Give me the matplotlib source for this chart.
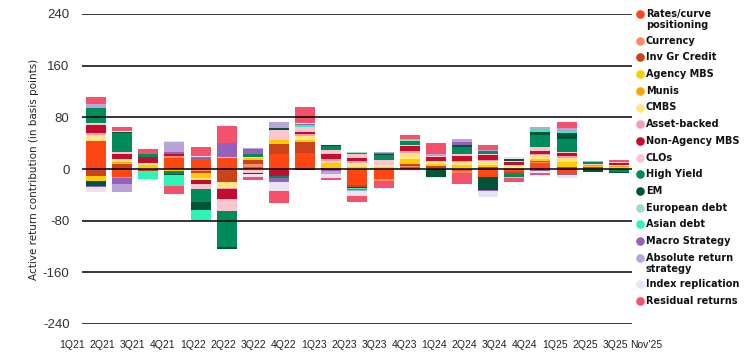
import numpy as np
import matplotlib
matplotlib.use("Agg")
import matplotlib.pyplot as plt
from matplotlib.lines import Line2D

plt.rcParams["axes.unicode_minus"] = False

# x axis labels (21 bars are drawn, the source chart carries 20 labels)
quarters = ["1Q21", "2Q21", "3Q21", "4Q21", "1Q22", "2Q22", "3Q22", "4Q22", "1Q23", "2Q23",
            "3Q23", "4Q23", "1Q24", "2Q24", "3Q24", "4Q24", "1Q25", "2Q25", "3Q25", "Nov'25"]

# contributions in basis points, one value per bar
rates      = [43.5, -12.9, -1, 16.5, 15.5, 16.5, 3, 22.5, 25.5, 1.5, -24, -16, 3, 1.5, -3.2, -12.9, -4.8, 9, -8, -2, 0]
currency   = [0, -1.6, 0, 3, -3.2, 0, 4.5, 1.5, 0, 0, 0, -3, 2, 0, -3.2, 0, 0, 1.5, 0, 0, 0]
inv_gr     = [-11.3, 8, -1.6, 0, -3.2, -20.4, 6.5, 15, 16.5, -2, -3.2, 0, 2.5, 3, 0, 3, -2.7, 1.5, 3, 3, -1.6]
agency_mbs = [-8, 2, 6, -3.2, -8, 1.5, 2.5, 6, 3, 7.5, 3, 3, 7.5, 3, 6, 3, 1.5, 3, 7.5, 1.5, 2.5]
munis      = [0, 1, 0, 0, 0, 0, 0, 0, 0, 0, 0, 0, 0, 0, 0, 0, 0, 0, 0, 1.5, 1.5]
cmbs       = [8.5, 4, 3, 0, -2, -9.7, 1.5, 0, 6, 4, 7, 3, 10.5, 4.5, 4.5, 6, 5, 6, 6, 0, 2]
asset_bk   = [3.5, 0, 0, 0, 0, -1.6, 0, 0, 3, 2, 2, 0, 3, 0, 1.5, 1.5, 0, 3, 3, 0, 0]
non_agency = [12, 9, 10, 4.5, -7.5, -14.5, 0, -11.3, 3, 7.5, 4.5, 0, 6.5, 6, 7.5, 7.5, 5, 4.5, 6, 0, 3]
clos       = [3, 3, 0, 0, -6.4, -19.3, -5.9, 15, 8, 7.5, 7.5, 7.5, 2.5, 2.5, 3, 1.5, 1.5, 6, 1.5, 1.5, 2.5]
high_yield = [24.5, 29, 3.5, -4.8, -21, -54.7, 4.5, -3.2, 0, 6, 1, 8.5, 5.5, 0, 12, 6, -5.4, 18, 19.5, 3, -3.2]
em         = [-7.5, 1.5, 0, -1, -12.9, -3.2, -1.6, 3, -2, 1.5, -1.6, 2, 0, -12.5, 3, -19.3, 3, 4.5, 9, -3, -1.6]
european   = [0, 0, 0, 0, 0, 0, 0, 0, 0, 0, 2, 0, 1.5, 0, 0, 0, -1.6, 0, 0, 0, 0]
asian      = [1.5, 0, -12.9, -17.7, -12.9, 0, 0, 0, 2.5, 0, -1.6, 0, 2, 0, 0, 0, 0, 3, 3, 0, 0]
macro      = [-1.6, -8, 1.5, 3, 3, 21.5, 9, -6.4, 1.5, -1.6, -1.6, 1.5, 0, 0, 4.5, -1.6, 0, -3.2, -2, 0, 0]
abs_return = [4, -12.9, 0, 15, -3.2, 0, 1.5, 10.5, 0, -4.3, -2.7, 1.5, 0, 2, 4.5, 1.5, 0, 4.5, 4.5, 1.5, 0]
index_rep  = [-7, 1, -2, 1.5, 1, 1, -4.8, -12.9, 1.5, -6, -7, 0, -3.2, -1.6, 0, -9.7, 2, -3, -4.3, 0, 0]
residual   = [10.5, 6, 7.5, -11.3, 15, 25.5, -4.8, -19.3, 25.5, -2.5, -9.7, -9.7, 6, 18, -16.1, 7.5, -6.4, -3.2, 10.5, 0, 2]

series = [
    ("Rates/curve\npositioning", rates, "#FF4713"),
    ("Currency", currency, "#FF8A65"),
    ("Inv Gr Credit", inv_gr, "#C9441B"),
    ("Agency MBS", agency_mbs, "#FFCC00"),
    ("Munis", munis, "#FFA500"),
    ("CMBS", cmbs, "#FFE680"),
    ("Asset-backed", asset_bk, "#F59BB5"),
    ("Non-Agency MBS", non_agency, "#C10E2F"),
    ("CLOs", clos, "#FBC5CF"),
    ("High Yield", high_yield, "#008C5A"),
    ("EM", em, "#005538"),
    ("European debt", european, "#A0DCC0"),
    ("Asian debt", asian, "#2CF5B5"),
    ("Macro Strategy", macro, "#9561BD"),
    ("Absolute return\nstrategy", abs_return, "#B9A3D8"),
    ("Index replication", index_rep, "#E9E3F3"),
    ("Residual returns", residual, "#F4516C"),
]

W, H = 746, 359
fig = plt.figure(figsize=(W / 100, H / 100), dpi=100)
ax = fig.add_axes([82 / W, 35 / H, 550 / W, 310 / H])

x = np.arange(len(rates))
pos_base = np.zeros(len(x))
neg_base = np.zeros(len(x))
for name, vals, col in series:
    v = np.array(vals, dtype=float)
    p = np.where(v > 0, v, 0)
    n = np.where(v < 0, v, 0)
    ax.bar(x, p, bottom=pos_base, width=0.765, color=col, linewidth=0, zorder=2)
    ax.bar(x, n, bottom=neg_base, width=0.765, color=col, linewidth=0, zorder=2)
    pos_base += p
    neg_base += n

ax.set_xlim(-0.535, 20.5)
ax.set_ylim(-240, 240)
ax.set_yticks(np.arange(-240, 241, 80))
ax.yaxis.grid(True, color="black", linewidth=1.1, zorder=3)
ax.set_axisbelow(False)
ax.tick_params(axis="y", length=0, pad=9, labelsize=9.5, labelcolor="#333333")
ax.set_xticks([])
for s in ax.spines.values():
    s.set_visible(False)
for lbl in ax.get_yticklabels():
    lbl.set_fontfamily("Liberation Sans")

ax.set_ylabel("Active return contribution (in basis points)", fontsize=7.5, color="#222222", labelpad=3)

# quarter labels sit on their own spacing under the bars
for i, q in enumerate(quarters):
    px = 72 + i * 30.2
    fig.text(px / W, 1 - 345 / H, q, ha="center", va="center", fontsize=7.5,
             family="Liberation Sans", color="#222222")

# legend drawn by hand
ypx = 14
for name, vals, col in series:
    fig.add_artist(Line2D([640 / W], [1 - ypx / H], marker="o", markersize=6.2,
                          markerfacecolor=col, markeredgewidth=0, linestyle="none",
                          transform=fig.transFigure))
    for k, line in enumerate(name.split("\n")):
        fig.text(646 / W, 1 - (ypx + k * 11.5) / H, line, ha="left", va="center",
                 fontsize=7, fontweight="bold", color="#111111")
    ypx += 16.7 + 10 * name.count("\n")

fig.savefig("out.png", dpi=100)
